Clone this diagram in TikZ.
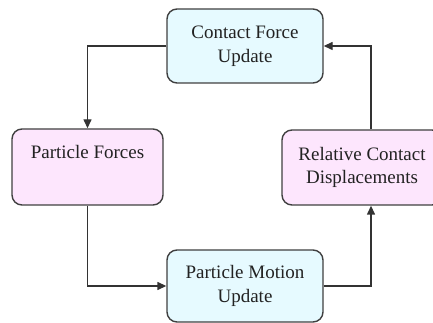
\documentclass[tikz,border=0pt]{standalone}
\usepackage{fontspec}
\setmainfont{Liberation Serif}
\usetikzlibrary{arrows.meta,calc}
\definecolor{boxcyan}{RGB}{230,250,255}
\definecolor{boxpink}{RGB}{253,230,253}
\definecolor{edge}{RGB}{64,64,64}
\definecolor{txt}{RGB}{34,34,34}
\begin{document}
\begin{tikzpicture}[x=1pt,y=1pt,
  procbox/.style={draw=edge, line width=1.4pt, rounded corners=10pt, align=center,
    inner sep=0pt, text=txt, font=\fontsize{19}{23.5}\selectfont},
  cyanbox/.style={procbox, fill=boxcyan},
  pinkbox/.style={procbox, fill=boxpink},
  arr/.style={draw=edge!80!black, line width=1.4pt, -{Triangle[length=9pt,width=8pt]}},
  ln/.style={draw=edge!80!black, line width=1.4pt}]
\path[use as bounding box, clip] (0,0) rectangle (433,323);
\node[cyanbox, minimum width=156pt, minimum height=74pt] (top) at (245,277) {Contact Force\\Update};
\node[pinkbox, minimum width=151pt, minimum height=76pt] (left) at (87.5,156) {Particle Forces\\\strut};
\node[cyanbox, minimum width=156pt, minimum height=72pt] (bottom) at (245,37) {Particle Motion\\Update};
\node[pinkbox, minimum width=160pt, minimum height=75pt] (right) at (362,155.5) {Relative Contact\\Displacements};
\coordinate (rc) at (371,0);
\draw[arr] (top.west) -| (left.north);
\draw[arr] (left.south) |- (bottom.west);
\draw[arr] (bottom.east) -| (rc |- right.south);
\draw[arr] (rc |- right.north) |- (top.east);
\end{tikzpicture}
\end{document}
